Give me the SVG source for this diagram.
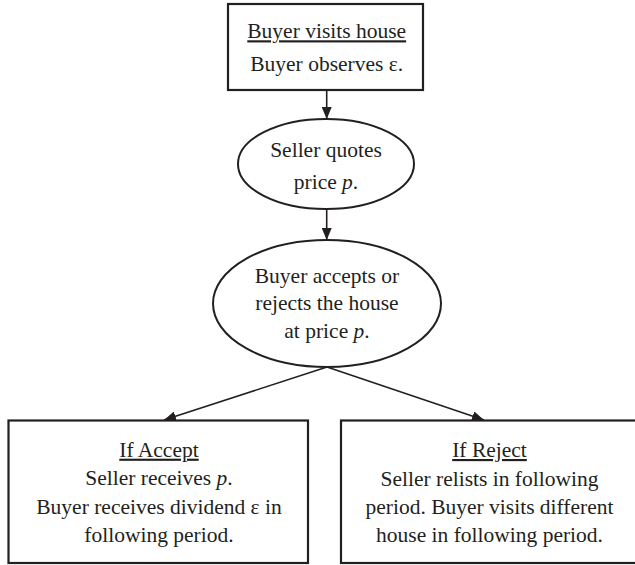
<svg xmlns="http://www.w3.org/2000/svg" width="635" height="565" viewBox="0 0 635 565">
<style>
.box{fill:#fff;stroke:#231f20;stroke-width:2.2}
.ell{fill:#fff;stroke:#231f20;stroke-width:2}
.t{font-family:"Liberation Serif","Times New Roman",serif;font-size:21.5px;fill:#231f20;text-anchor:middle}
.u{text-decoration:underline}
.i{font-style:italic}
.c{stroke:#231f20;stroke-width:1.6;fill:none;marker-end:url(#ah)}
</style>
<defs>
<marker id="ah" viewBox="0 0 12 10" refX="12" refY="5" markerWidth="12" markerHeight="10" markerUnits="userSpaceOnUse" orient="auto">
<path d="M0,0 L12,5 L0,10 Z" fill="#231f20"/>
</marker>
</defs>
<rect width="635" height="565" fill="#fff"/>
<g id="connectors">
<line class="c" x1="326.7" y1="90" x2="326.7" y2="119"/>
<line class="c" x1="326.7" y1="209" x2="326.7" y2="240"/>
<line class="c" x1="327" y1="367" x2="164" y2="420"/>
<line class="c" x1="327" y1="367" x2="484" y2="420"/>
</g>
<g id="node-visit">
<rect class="box" x="228" y="4" width="195" height="86"/>
<text class="t u" x="326.7" y="38.3">Buyer visits house</text>
<text class="t" x="326.7" y="71">Buyer observes ε.</text>
</g>
<g id="node-quote">
<ellipse class="ell" cx="326" cy="164" rx="88" ry="45"/>
<text class="t" x="326" y="156.7">Seller quotes</text>
<text class="t" x="326" y="188.5">price <tspan class="i">p</tspan>.</text>
</g>
<g id="node-decide">
<ellipse class="ell" cx="327" cy="303.5" rx="114" ry="63.5"/>
<text class="t" x="327" y="283">Buyer accepts or</text>
<text class="t" x="327" y="310">rejects the house</text>
<text class="t" x="327" y="338">at price <tspan class="i">p</tspan>.</text>
</g>
<g id="node-accept">
<rect class="box" x="8.5" y="420.5" width="299.5" height="142.5"/>
<text class="t u" x="159" y="456.7">If Accept</text>
<text class="t" x="159" y="484.5">Seller receives <tspan class="i">p</tspan>.</text>
<text class="t" x="159" y="513.5">Buyer receives dividend ε in</text>
<text class="t" x="159" y="541.7">following period.</text>
</g>
<g id="node-reject">
<rect class="box" x="341" y="420.5" width="297" height="142.5"/>
<text class="t u" x="489.5" y="457">If Reject</text>
<text class="t" x="489.5" y="485.5">Seller relists in following</text>
<text class="t" x="489.5" y="514">period. Buyer visits different</text>
<text class="t" x="489.5" y="542">house in following period.</text>
</g>
</svg>
